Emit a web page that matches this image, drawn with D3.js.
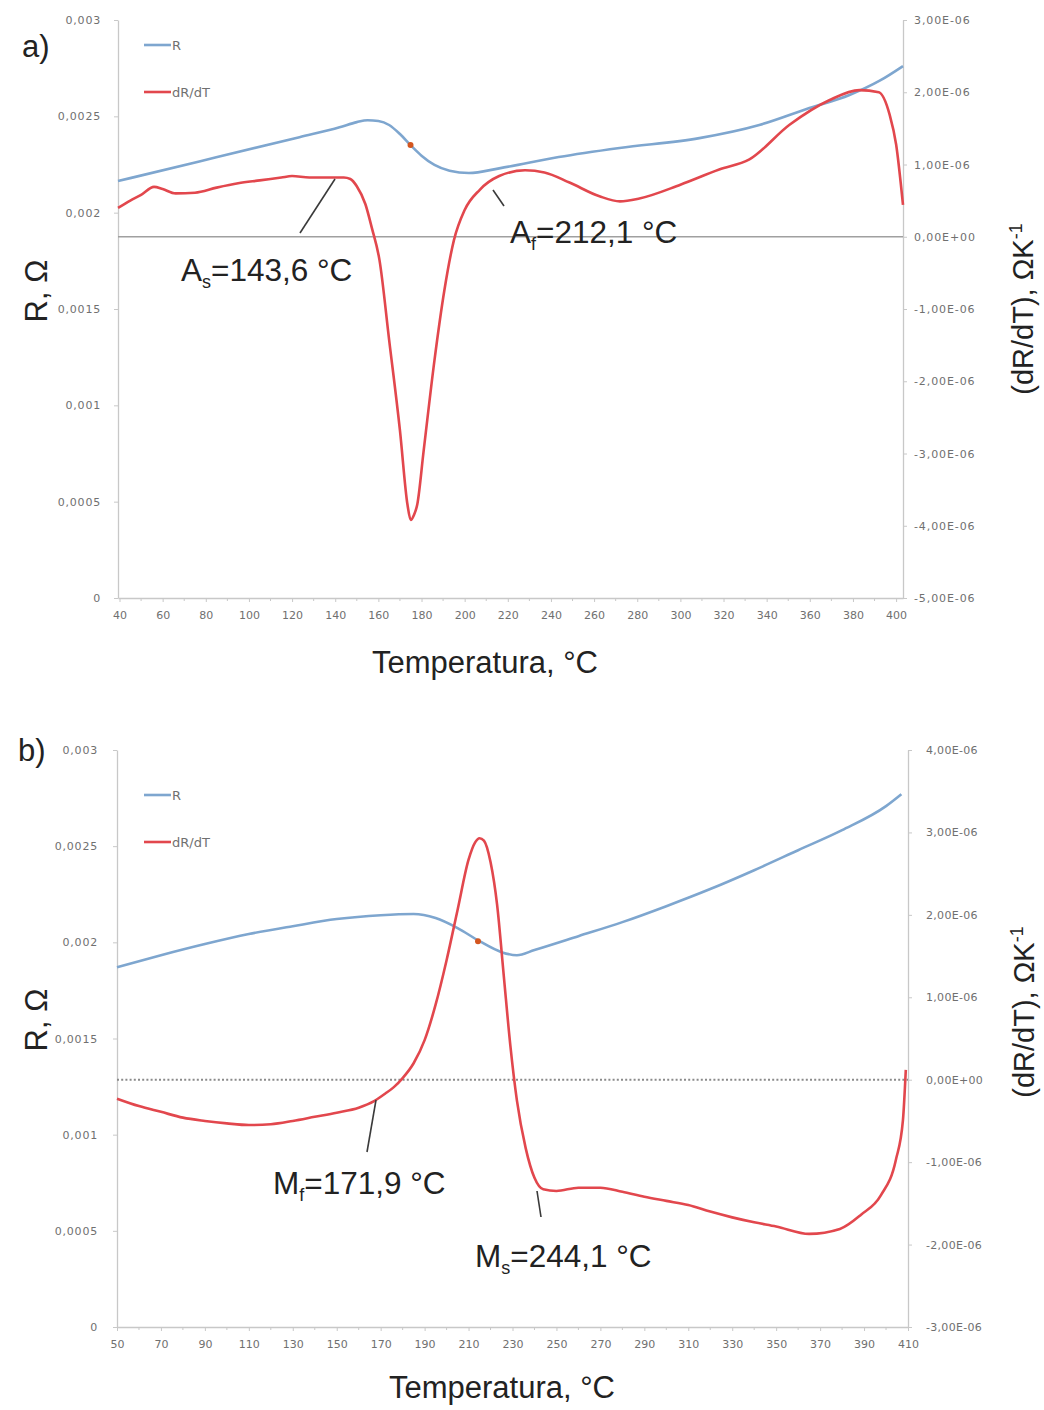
<!DOCTYPE html>
<html>
<head>
<meta charset="utf-8">
<script src="https://cdn.jsdelivr.net/npm/d3@7"></script>
<style>
  html, body { margin: 0; padding: 0; background: #fff; }
  svg { display: block; }
</style>
</head>
<body>
<svg id="chart" width="1044" height="1410"></svg>
<script>
// ---------------- DATA ----------------
// Panel a) heating
const aR_T    = [39.3, 77, 123.4, 142, 150, 155, 160, 165, 170, 174.9, 180, 186, 193, 202, 216, 243.6, 271.8, 308.8, 336.6, 359.8, 378.4, 392.4, 403.2];
const aR_val  = [0.002164, 0.002266, 0.002392, 0.002443, 0.002470, 0.002480, 0.002476, 0.002455, 0.002408, 0.002351, 0.002296, 0.002248, 0.002218, 0.002206, 0.002230, 0.002289, 0.002336, 0.002387, 0.002455, 0.002543, 0.002611, 0.002685, 0.002761];
const aD_T    = [39.3, 45, 50, 56, 60, 66, 75, 85, 95, 105, 115, 120, 128, 138, 144, 147, 150, 154, 157, 160.5, 165, 170, 173.5, 175, 176.5, 178, 181, 186, 190.6, 195, 200, 207, 216, 228, 237, 248.6, 262.5, 272, 281, 300, 318, 332, 350.6, 369, 383, 392, 397, 400, 403.2];
const aD_e6   = [0.40, 0.50, 0.58, 0.69, 0.66, 0.60, 0.61, 0.68, 0.74, 0.78, 0.82, 0.84, 0.82, 0.82, 0.82, 0.80, 0.70, 0.45, 0.12, -0.32, -1.43, -2.68, -3.71, -3.92, -3.85, -3.71, -2.96, -1.71, -0.74, -0.05, 0.37, 0.65, 0.84, 0.92, 0.89, 0.75, 0.56, 0.49, 0.53, 0.72, 0.93, 1.07, 1.55, 1.89, 2.03, 2.00, 1.69, 1.28, 0.44];
const aMarker = [174.9, 0.002351];

// Panel b) cooling
const bR_T    = [50, 70, 90, 110, 130, 150, 170, 185, 195, 205, 215, 225, 232, 240, 260, 280, 300, 320, 340, 360, 380, 400, 407];
const bR_val  = [0.001871, 0.001933, 0.001991, 0.002043, 0.002084, 0.002121, 0.002141, 0.002147, 0.002126, 0.002074, 0.002006, 0.001949, 0.001933, 0.001960, 0.002032, 0.002105, 0.002188, 0.002277, 0.002375, 0.002479, 0.002583, 0.002708, 0.002770];
const bD_T    = [50, 60, 70, 80, 90, 100, 110, 120, 130, 140, 150, 160, 167, 172, 176, 180, 185, 190, 195, 200, 205, 210, 213, 215, 217, 220, 223, 226, 229, 232, 236, 240, 244, 250, 260, 270, 280, 290, 300, 310, 320, 330, 340, 350, 365, 379, 388.5, 397.7, 404.5, 407.7, 409];
const bD_e6   = [-0.23, -0.32, -0.39, -0.46, -0.50, -0.53, -0.55, -0.54, -0.50, -0.45, -0.40, -0.34, -0.26, -0.17, -0.09, 0.02, 0.20, 0.48, 0.91, 1.45, 2.06, 2.67, 2.88, 2.93, 2.90, 2.64, 2.12, 1.27, 0.42, -0.25, -0.83, -1.19, -1.33, -1.35, -1.31, -1.31, -1.36, -1.42, -1.47, -1.52, -1.60, -1.67, -1.73, -1.78, -1.87, -1.81, -1.64, -1.40, -0.97, -0.49, 0.12];
const bMarker = [214.3, 0.002006];

// Tick labels
const aXTicks      = [40, 60, 80, 100, 120, 140, 160, 180, 200, 220, 240, 260, 280, 300, 320, 340, 360, 380, 400];
const aXMinor      = [50, 70, 90, 110, 130, 150, 170, 190, 210, 230, 250, 270, 290, 310, 330, 350, 370, 390];
const bXTicks      = [50, 70, 90, 110, 130, 150, 170, 190, 210, 230, 250, 270, 290, 310, 330, 350, 370, 390, 410];
const bXMinor      = [60, 80, 100, 120, 140, 160, 180, 200, 220, 240, 260, 280, 300, 320, 340, 360, 380, 400];
const leftTicks    = [0, 0.0005, 0.001, 0.0015, 0.002, 0.0025, 0.003];
const aRightTicks  = [3e-6, 2e-6, 1e-6, 0, -1e-6, -2e-6, -3e-6, -4e-6, -5e-6];
const bRightTicks  = [4e-6, 3e-6, 2e-6, 1e-6, 0, -1e-6, -2e-6, -3e-6];

const seriesNames  = ["R", "dR/dT"];
const colors       = { R: "#7ea6cf", D: "#e2474d", marker: "#d4561f" };

// ---------------- DRAW ----------------
const svg = d3.select("#chart");
const leftFmt  = v => v === 0 ? "0" : String(v).replace(".", ",");
const rightFmt = v => v === 0 ? "0,00E+00" : (v / 1e-6).toFixed(2).replace(".", ",") + "E-06";
const BIG = "'Liberation Sans', Arial, sans-serif";
const SMALL = "'DejaVu Sans', sans-serif";

function drawPanel(cfg) {
  const g = svg.append("g");
  const x  = d3.scaleLinear().domain(cfg.xDomain).range(cfg.xRange);
  const yL = d3.scaleLinear().domain([0, 0.003]).range([cfg.bottom, cfg.top]);
  const yR = d3.scaleLinear().domain(cfg.rDomain).range([cfg.bottom, cfg.top]);

  // bottom axis
  const xAxis = d3.axisBottom(x).tickValues(cfg.xTicks).tickSize(4).tickSizeOuter(0).tickFormat(d => d);
  const gx = g.append("g").attr("transform", `translate(0,${cfg.bottom})`).call(xAxis);
  gx.select(".domain").attr("stroke", "#c8c8c8").attr("stroke-width", 1.3);
  gx.selectAll(".tick line").attr("stroke", "#c8c8c8");
  gx.selectAll(".tick text").attr("font-family", SMALL).attr("font-size", 11).attr("fill", "#707070").attr("dy", "1.25em");
  g.append("g").selectAll("line").data(cfg.xMinor).join("line")
    .attr("x1", d => x(d)).attr("x2", d => x(d)).attr("y1", cfg.bottom).attr("y2", cfg.bottom + 3)
    .attr("stroke", "#c8c8c8");

  // left axis
  const gl = g.append("g").attr("transform", `translate(${cfg.xRange[0]},0)`)
    .call(d3.axisLeft(yL).tickValues(leftTicks).tickSize(4).tickSizeOuter(0).tickFormat(leftFmt));
  gl.select(".domain").attr("stroke", "#c8c8c8").attr("stroke-width", 1.3);
  gl.selectAll(".tick line").attr("stroke", "#c8c8c8");
  gl.selectAll(".tick text").attr("font-family", SMALL).attr("font-size", 11).attr("fill", "#707070")
    .attr("x", cfg.leftLabelX - cfg.xRange[0]).attr("letter-spacing", 0.8);

  // right axis
  const gr = g.append("g").attr("transform", `translate(${cfg.xRange[1]},0)`)
    .call(d3.axisRight(yR).tickValues(cfg.rTicks).tickSize(4).tickSizeOuter(0).tickFormat(rightFmt));
  gr.select(".domain").attr("stroke", "#c8c8c8").attr("stroke-width", 1.3);
  gr.selectAll(".tick line").attr("stroke", "#c8c8c8");
  gr.selectAll(".tick text").attr("font-family", SMALL).attr("font-size", 11).attr("fill", "#707070")
    .attr("x", cfg.rightLabelX - cfg.xRange[1]).attr("letter-spacing", cfg.rightSpacing);

  // zero line
  g.append("line")
    .attr("x1", cfg.xRange[0]).attr("x2", cfg.xRange[1])
    .attr("y1", yR(0)).attr("y2", yR(0))
    .attr("stroke", cfg.zeroDotted ? "#8a8a8a" : "#a0a0a0")
    .attr("stroke-width", cfg.zeroDotted ? 2 : 1.4)
    .attr("stroke-dasharray", cfg.zeroDotted ? "2,2.2" : null);

  // series
  const rPts = cfg.rT.map((t, i) => [t, cfg.rV[i]]);
  const dPts = cfg.dT.map((t, i) => [t, cfg.dV[i] * 1e-6]);
  g.append("path").datum(rPts)
    .attr("fill", "none").attr("stroke", colors.R).attr("stroke-width", 2.6)
    .attr("d", d3.line().x(d => x(d[0])).y(d => yL(d[1])).curve(d3.curveMonotoneX));
  g.append("path").datum(dPts)
    .attr("fill", "none").attr("stroke", colors.D).attr("stroke-width", 2.6)
    .attr("d", d3.line().x(d => x(d[0])).y(d => yR(d[1])).curve(d3.curveMonotoneX));

  // marker
  g.append("circle").attr("cx", x(cfg.marker[0])).attr("cy", yL(cfg.marker[1])).attr("r", 3)
    .attr("fill", colors.marker);

  // legend
  const leg = g.append("g");
  seriesNames.forEach((name, i) => {
    const ly = cfg.legendY[i];
    leg.append("line").attr("x1", 144).attr("x2", 171).attr("y1", ly).attr("y2", ly)
      .attr("stroke", i === 0 ? colors.R : colors.D).attr("stroke-width", 2.6);
    leg.append("text").attr("x", 172).attr("y", ly + 4.5).text(name)
      .attr("font-family", SMALL).attr("font-size", 13).attr("fill", "#707070");
  });

  // panel label
  g.append("text").attr("x", cfg.labelPos[0]).attr("y", cfg.labelPos[1]).text(cfg.label)
    .attr("font-family", BIG).attr("font-size", 31).attr("fill", "#222");

  // axis titles
  g.append("text").attr("x", cfg.xTitlePos[0]).attr("y", cfg.xTitlePos[1]).attr("text-anchor", "middle")
    .attr("font-family", BIG).attr("font-size", 31).attr("fill", "#222").text("Temperatura, °C");
  g.append("text").attr("transform", `translate(${cfg.lTitlePos[0]},${cfg.lTitlePos[1]}) rotate(-90)`)
    .attr("text-anchor", "middle").attr("font-family", BIG).attr("font-size", 31).attr("fill", "#222")
    .text("R, Ω");
  const rt = g.append("text").attr("transform", `translate(${cfg.rTitlePos[0]},${cfg.rTitlePos[1]}) rotate(-90)`)
    .attr("text-anchor", "middle").attr("font-family", BIG).attr("font-size", 29).attr("fill", "#222");
  rt.append("tspan").text("(dR/dT), ΩK");
  rt.append("tspan").attr("font-size", 18).attr("dy", -11).text("-1");

  // annotations
  cfg.notes.forEach(n => {
    g.append("line").attr("x1", n.line[0]).attr("y1", n.line[1]).attr("x2", n.line[2]).attr("y2", n.line[3])
      .attr("stroke", "#3a3a3a").attr("stroke-width", 1.6);
    const t = g.append("text").attr("x", n.pos[0]).attr("y", n.pos[1])
      .attr("font-family", BIG).attr("font-size", 31.5).attr("fill", "#222");
    t.append("tspan").text(n.main);
    t.append("tspan").attr("font-size", 18).attr("dy", 7).text(n.sub);
    t.append("tspan").attr("dy", -7).text(n.rest);
  });
}

drawPanel({
  xDomain: [39.3, 403.2], xRange: [118, 903], top: 20, bottom: 598,
  rDomain: [-5e-6, 3e-6], xTicks: aXTicks, xMinor: aXMinor, rTicks: aRightTicks,
  leftLabelX: 101, rightLabelX: 914, rightSpacing: 0.9, zeroDotted: false,
  rT: aR_T, rV: aR_val, dT: aD_T, dV: aD_e6, marker: aMarker,
  legendY: [45, 92], label: "a)", labelPos: [22, 57],
  xTitlePos: [485, 673], lTitlePos: [47, 291], rTitlePos: [1033, 309],
  notes: [
    { main: "A", sub: "s", rest: "=143,6 °C", pos: [181, 281], line: [300, 233, 335, 179] },
    { main: "A", sub: "f", rest: "=212,1 °C", pos: [510, 243], line: [493, 190, 504, 206] }
  ]
});

drawPanel({
  xDomain: [50, 410], xRange: [117, 908], top: 750, bottom: 1327,
  rDomain: [-3e-6, 4e-6], xTicks: bXTicks, xMinor: bXMinor, rTicks: bRightTicks,
  leftLabelX: 98, rightLabelX: 926, rightSpacing: 0.3, zeroDotted: true,
  rT: bR_T, rV: bR_val, dT: bD_T, dV: bD_e6, marker: bMarker,
  legendY: [795, 842], label: "b)", labelPos: [18, 761],
  xTitlePos: [502, 1398], lTitlePos: [47, 1020], rTitlePos: [1034, 1012],
  notes: [
    { main: "M", sub: "f", rest: "=171,9 °C", pos: [273, 1194], line: [376, 1100, 367, 1152] },
    { main: "M", sub: "s", rest: "=244,1 °C", pos: [475, 1267], line: [537, 1191, 541, 1217] }
  ]
});
</script>
</body>
</html>
